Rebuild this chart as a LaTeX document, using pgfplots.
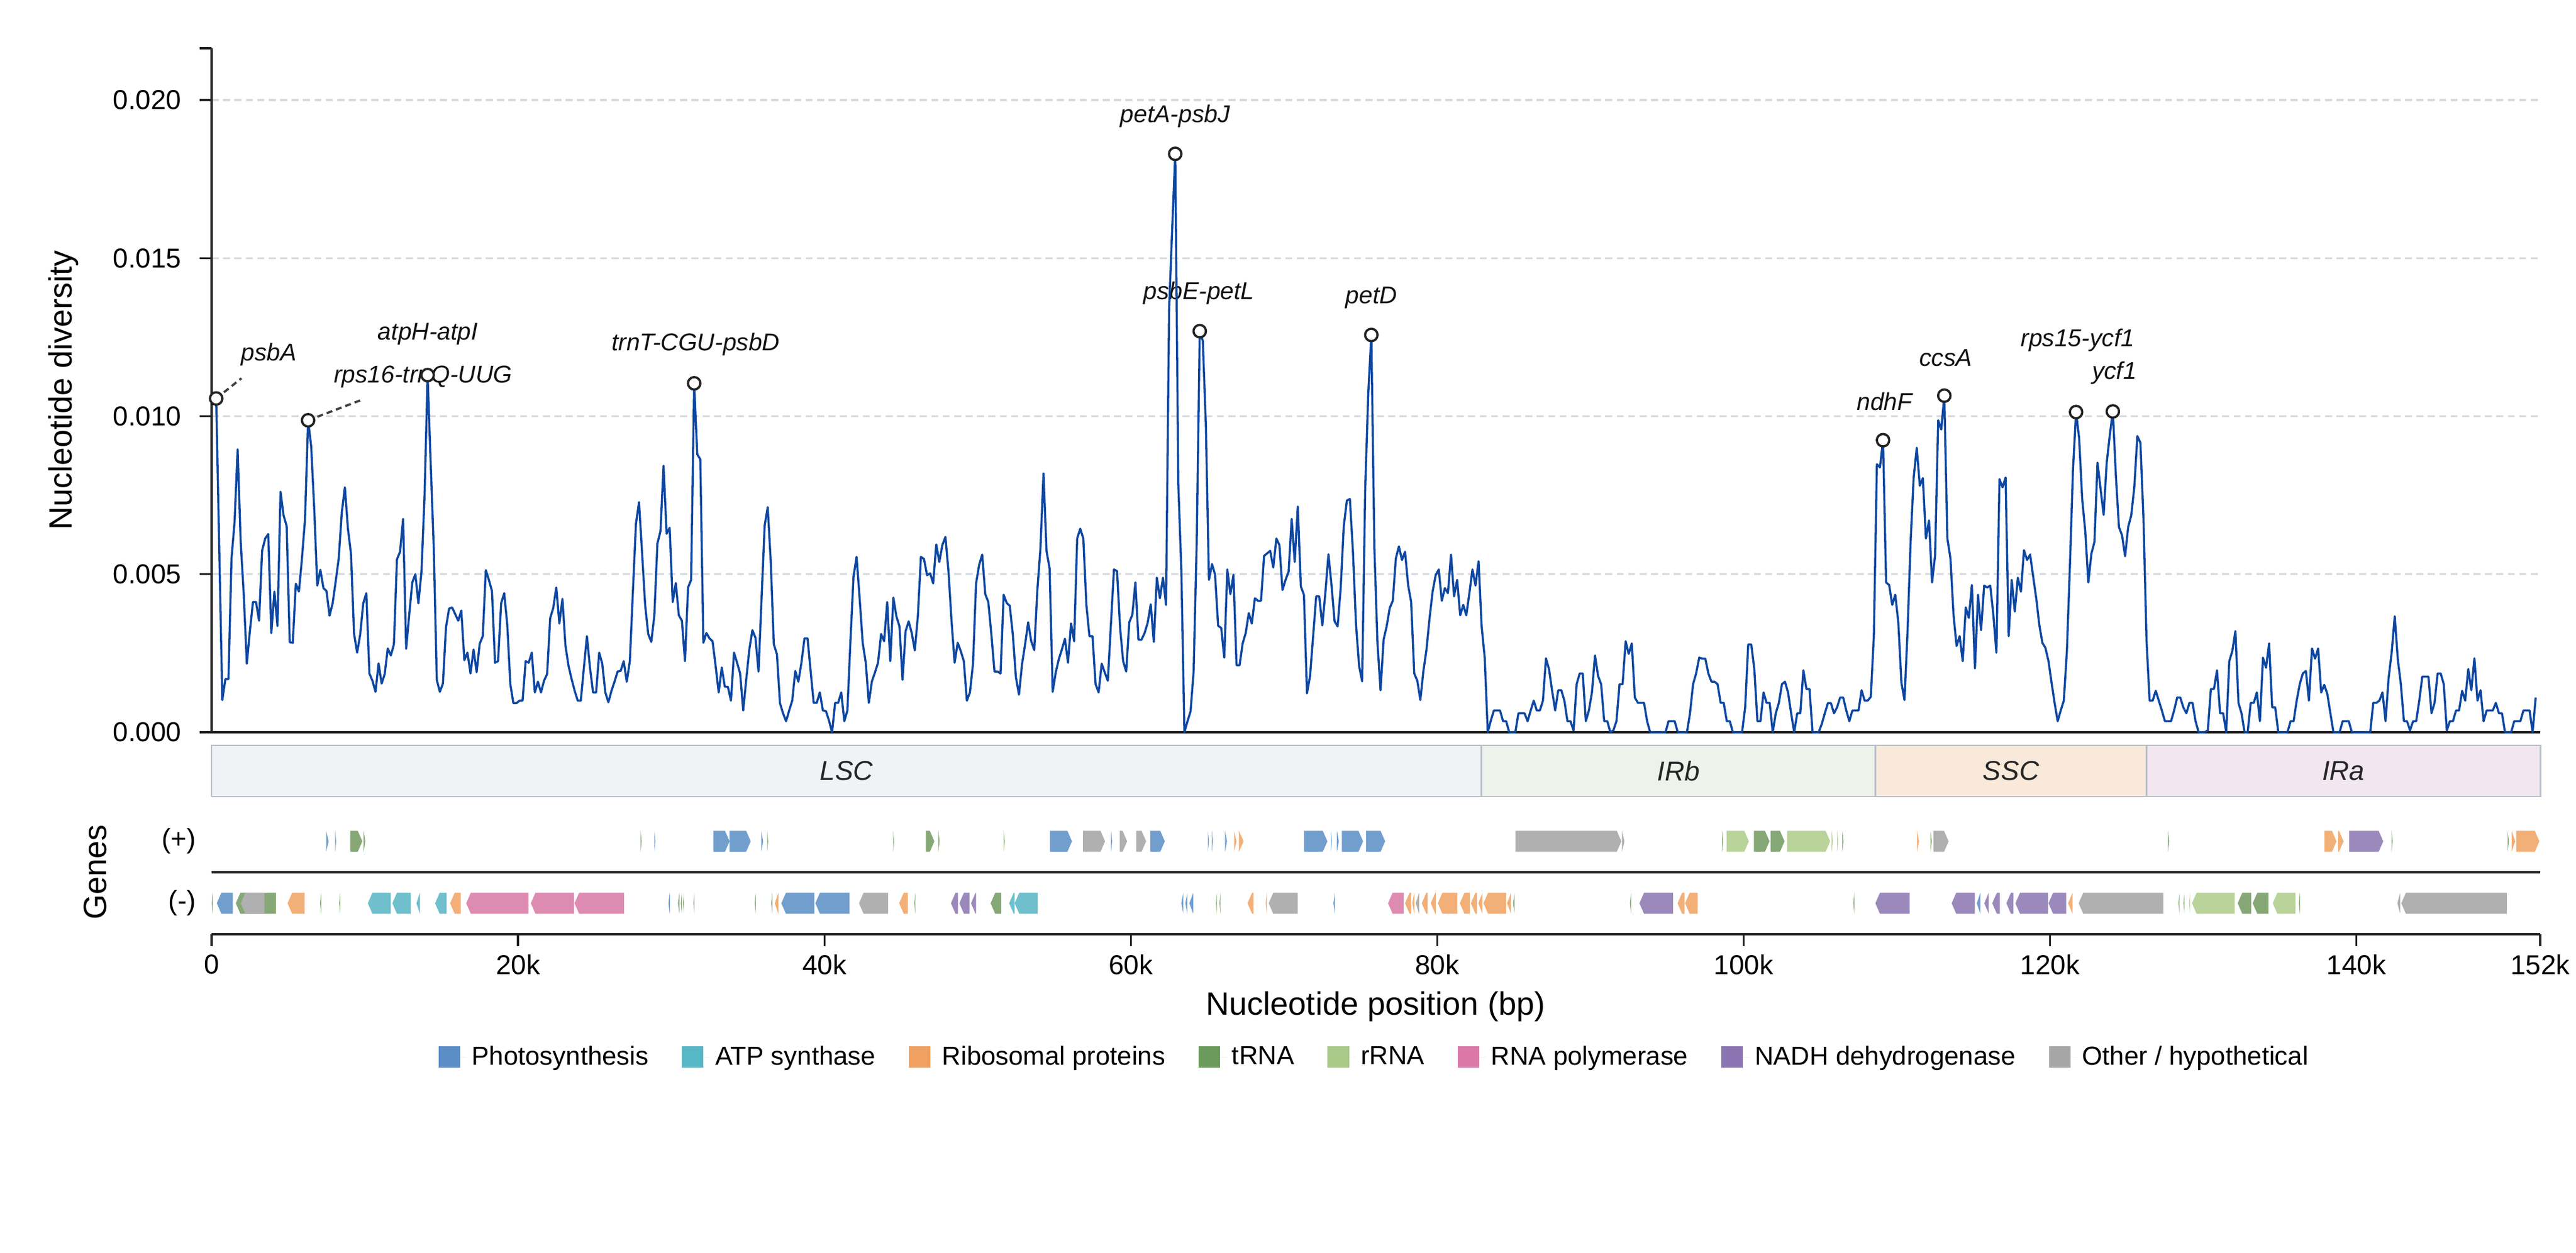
\documentclass[border=0pt]{standalone}
\usepackage{fontspec}
\setmainfont{Liberation Sans}
\usepackage{pgfplots}
\pgfplotsset{compat=1.18}

\definecolor{linec}{HTML}{0D47A1}
\definecolor{axc}{HTML}{222222}
\definecolor{gridc}{HTML}{D6DADF}
\definecolor{leadc}{HTML}{404040}
\definecolor{bandedge}{HTML}{B9BFC7}
\definecolor{bLSC}{HTML}{EFF3F6}
\definecolor{bIRb}{HTML}{EDF2EA}
\definecolor{bSSC}{HTML}{F9E9DA}
\definecolor{bIRa}{HTML}{F2E6F1}
% gene fills
\definecolor{gPS}{HTML}{729ECE}
\definecolor{gATP}{HTML}{6FBFCC}
\definecolor{gRP}{HTML}{F2AF78}
\definecolor{gT}{HTML}{86A876}
\definecolor{gR}{HTML}{B9D39A}
\definecolor{gPOL}{HTML}{DE8BB2}
\definecolor{gNDH}{HTML}{9B89BC}
\definecolor{gOT}{HTML}{B0B0B0}
% legend fills
\definecolor{lPS}{HTML}{5B8DC7}
\definecolor{lATP}{HTML}{56B8C6}
\definecolor{lRP}{HTML}{F0A060}
\definecolor{lT}{HTML}{6C9A5C}
\definecolor{lR}{HTML}{A9CA88}
\definecolor{lPOL}{HTML}{DC78A8}
\definecolor{lNDH}{HTML}{8B74B2}
\definecolor{lOT}{HTML}{A6A6A6}

\tikzset{
  ann/.style={font=\fontsize{9.8}{11}\selectfont\itshape, text=black!93, inner sep=0pt, anchor=center},
  reg/.style={font=\fontsize{11}{13}\selectfont\itshape, text=black!85, inner sep=0pt},
}

\newcommand{\genep}[3]{\pgfmathsetmacro\gtip{max(#1,#2-0.3)}%
\addplot[forget plot,draw=none,fill=#3] coordinates {(#1,0.33)(\gtip,0.33)(#2,0.5)(\gtip,0.67)(#1,0.67)};}
\newcommand{\genem}[3]{\pgfmathsetmacro\gtip{min(#2,#1+0.3)}%
\addplot[forget plot,draw=none,fill=#3] coordinates {(#2,-0.33)(\gtip,-0.33)(#1,-0.5)(\gtip,-0.67)(#2,-0.67)};}

\begin{document}
\begin{tikzpicture}
\useasboundingbox (0,0) rectangle (1037.28pt,504.48pt);

% ---------------- main diversity axis ----------------
\begin{axis}[
  at={(85.2pt,209.52pt)}, anchor=south west, scale only axis,
  width=937.68pt, height=275.52pt,
  xmin=0, xmax=152, ymin=0, ymax=21.64,
  axis x line*=bottom, axis y line*=left,
  axis line style={-, line width=0.8pt, draw=axc},
  xtick=\empty,
  ytick={0,5,10,15,20},
  yticklabels={0.000,0.005,0.010,0.015,0.020},
  extra y ticks={21.64}, extra y tick labels={}, extra y tick style={grid=none},
  ymajorgrids,
  major grid style={draw=gridc, line width=0.8pt, dash pattern=on 2.8pt off 1.8pt},
  tick align=outside, major tick length=4.8pt,
  tick style={line width=0.8pt, draw=axc},
  tick label style={font=\fontsize{11}{13}\selectfont},
  yticklabel style={xshift=-3.8pt},
  clip=false,
]
\node[ann] at (axis cs:3.74,11.95) {psbA};
\node[ann] at (axis cs:13.81,11.25) {rps16-trnQ-UUG};
\node[ann] at (axis cs:14.12,12.6) {atpH-atpI};
\node[ann] at (axis cs:31.6,12.27) {trnT-CGU-psbD};
\node[ann] at (axis cs:62.9,19.5) {petA-psbJ};
\node[ann] at (axis cs:64.45,13.9) {psbE-petL};
\node[ann] at (axis cs:75.7,13.74) {petD};
\node[ann] at (axis cs:109.2,10.46) {ndhF};
\node[ann] at (axis cs:113.2,11.85) {ccsA};
\node[ann] at (axis cs:121.8,12.41) {rps15-ycf1};
\node[ann] at (axis cs:124.2,11.37) {ycf1};

\addplot[forget plot, draw=leadc, line width=0.9pt, dash pattern=on 2.4pt off 1.6pt] coordinates {(0.3,10.56)(1.95,11.2)};
\addplot[forget plot, draw=leadc, line width=0.9pt, dash pattern=on 2.4pt off 1.6pt] coordinates {(6.3,9.87)(9.92,10.54)};

\addplot[forget plot, draw=linec, line width=0.85pt, line join=round] coordinates {
(0.3,10.56)(0.5,5.8)(0.7,1.02)(0.9,1.68)(1.1,1.68)(1.3,5.5)(1.5,6.65)(1.7,8.95)(1.9,6.02)(2.1,4.35)
(2.3,2.17)(2.5,3.2)(2.7,4.12)(2.9,4.12)(3.1,3.53)(3.3,5.75)(3.5,6.13)(3.7,6.27)(3.9,3.14)(4.1,4.45)
(4.3,3.36)(4.5,7.61)(4.7,6.86)(4.9,6.52)(5.1,2.85)(5.3,2.83)(5.5,4.7)(5.7,4.45)(5.9,5.5)(6.1,6.75)
(6.3,9.87)(6.5,9.05)(6.7,7.07)(6.9,4.64)(7.1,5.14)(7.3,4.56)(7.5,4.47)(7.7,3.69)(7.9,4.08)(8.1,4.77)
(8.3,5.5)(8.5,6.96)(8.7,7.75)(8.9,6.44)(9.1,5.65)(9.3,3.11)(9.5,2.52)(9.7,3.09)(9.9,4.08)(10.1,4.4)
(10.3,1.86)(10.5,1.63)(10.7,1.28)(10.9,2.18)(11.1,1.54)(11.3,1.84)(11.5,2.65)(11.7,2.43)(11.9,2.78)(12.1,5.47)
(12.3,5.71)(12.5,6.75)(12.7,2.64)(12.9,3.72)(13.1,4.74)(13.3,5.0)(13.5,4.08)(13.7,5.08)(13.9,7.48)(14.1,11.3)
(14.3,8.53)(14.5,5.86)(14.7,1.65)(14.9,1.28)(15.1,1.54)(15.3,3.32)(15.5,3.91)(15.7,3.95)(15.9,3.74)(16.1,3.53)
(16.3,3.85)(16.5,2.28)(16.7,2.52)(16.9,1.86)(17.1,2.62)(17.3,1.9)(17.5,2.8)(17.7,3.04)(17.9,5.13)(18.1,4.82)
(18.3,4.47)(18.5,2.2)(18.7,2.25)(18.9,4.08)(19.1,4.4)(19.3,3.4)(19.5,1.52)(19.7,0.92)(19.9,0.92)(20.1,1.0)
(20.3,1.0)(20.5,2.25)(20.7,2.2)(20.9,2.52)(21.1,1.26)(21.3,1.6)(21.5,1.26)(21.7,1.63)(21.9,1.84)(22.1,3.61)
(22.3,3.93)(22.5,4.58)(22.7,3.44)(22.9,4.22)(23.1,2.73)(23.3,2.1)(23.5,1.68)(23.7,1.31)(23.9,1.0)(24.1,1.0)
(24.3,2.04)(24.5,3.04)(24.7,2.04)(24.9,1.26)(25.1,1.26)(25.3,2.52)(25.5,2.17)(25.7,1.26)(25.9,0.95)(26.1,1.31)
(26.3,1.6)(26.5,1.92)(26.7,1.94)(26.9,2.25)(27.1,1.6)(27.3,2.25)(27.5,4.45)(27.7,6.6)(27.9,7.28)(28.1,5.66)
(28.3,4.03)(28.5,3.11)(28.7,2.86)(28.9,3.7)(29.1,5.97)(29.3,6.36)(29.5,8.43)(29.7,6.28)(29.9,6.47)(30.1,4.12)
(30.3,4.72)(30.5,3.7)(30.7,3.53)(30.9,2.25)(31.1,4.58)(31.3,4.82)(31.5,11.04)(31.7,8.79)(31.9,8.64)(32.1,2.83)
(32.3,3.14)(32.5,2.97)(32.7,2.88)(32.9,2.1)(33.1,1.26)(33.3,2.05)(33.5,1.44)(33.7,1.44)(33.9,1.0)(34.1,2.52)
(34.3,2.2)(34.5,1.86)(34.7,0.69)(34.9,1.68)(35.1,2.62)(35.3,3.23)(35.5,2.99)(35.7,1.92)(35.9,4.24)(36.1,6.54)
(36.3,7.12)(36.5,5.39)(36.7,2.78)(36.9,2.47)(37.1,0.92)(37.3,0.6)(37.5,0.35)(37.7,0.69)(37.9,1.0)(38.1,1.94)
(38.3,1.6)(38.5,2.2)(38.7,2.97)(38.9,2.97)(39.1,1.94)(39.3,0.93)(39.5,0.93)(39.7,1.26)(39.9,0.69)(40.1,0.67)
(40.3,0.37)(40.5,0.0)(40.7,0.93)(40.9,0.93)(41.1,1.26)(41.3,0.35)(41.5,0.69)(41.7,2.88)(41.9,4.92)(42.1,5.55)
(42.3,4.24)(42.5,2.83)(42.7,2.2)(42.9,0.93)(43.1,1.61)(43.3,1.89)(43.5,2.2)(43.7,3.11)(43.9,2.88)(44.1,4.12)
(44.3,2.25)(44.5,4.26)(44.7,3.67)(44.9,3.35)(45.1,1.66)(45.3,3.2)(45.5,3.51)(45.7,3.14)(45.9,2.59)(46.1,3.67)
(46.3,5.55)(46.5,5.48)(46.7,4.97)(46.9,5.03)(47.1,4.71)(47.3,5.94)(47.5,5.39)(47.7,5.92)(47.9,6.18)(48.1,5.08)
(48.3,3.51)(48.5,2.2)(48.7,2.83)(48.9,2.57)(49.1,2.25)(49.3,1.0)(49.5,1.26)(49.7,2.17)(49.9,4.71)(50.1,5.29)
(50.3,5.62)(50.5,4.37)(50.7,4.12)(50.9,3.09)(51.1,1.92)(51.3,1.92)(51.5,1.86)(51.7,4.35)(51.9,4.09)(52.1,4.0)
(52.3,3.09)(52.5,1.74)(52.7,1.19)(52.9,2.15)(53.1,2.78)(53.3,3.48)(53.5,2.88)(53.7,2.6)(53.9,4.5)(54.1,5.81)
(54.3,8.19)(54.5,5.73)(54.7,5.18)(54.9,1.28)(55.1,1.89)(55.3,2.31)(55.5,2.62)(55.7,2.96)(55.9,2.2)(56.1,3.44)
(56.3,2.88)(56.5,6.13)(56.7,6.44)(56.9,6.13)(57.1,4.03)(57.3,3.04)(57.5,3.04)(57.7,1.52)(57.9,1.26)(58.1,2.17)
(58.3,1.89)(58.5,1.63)(58.7,3.4)(58.9,5.15)(59.1,5.1)(59.3,3.3)(59.5,2.25)(59.7,1.92)(59.9,3.48)(60.1,3.72)
(60.3,4.74)(60.5,2.93)(60.7,2.93)(60.9,3.14)(61.1,3.46)(61.3,4.05)(61.5,2.86)(61.7,4.89)(61.9,4.24)(62.1,4.89)
(62.3,4.03)(62.5,13.4)(62.7,15.9)(62.9,18.3)(63.1,7.85)(63.3,5.11)(63.5,0.0)(63.7,0.35)(63.9,0.66)(64.1,1.91)
(64.3,5.97)(64.5,12.69)(64.7,12.38)(64.9,9.72)(65.1,4.82)(65.3,5.32)(65.5,4.99)(65.7,3.37)(65.9,3.3)(66.1,2.36)
(66.3,5.15)(66.5,4.37)(66.7,4.98)(66.9,2.12)(67.1,2.12)(67.3,2.81)(67.5,3.14)(67.7,3.77)(67.9,3.44)(68.1,4.24)
(68.3,4.16)(68.5,4.16)(68.7,5.58)(68.9,5.66)(69.1,5.74)(69.3,5.21)(69.5,6.13)(69.7,5.92)(69.9,4.5)(70.1,4.82)
(70.3,5.08)(70.5,6.75)(70.7,5.39)(70.9,7.14)(71.1,4.61)(71.3,4.35)(71.5,1.23)(71.7,1.78)(71.9,3.04)(72.1,4.3)
(72.3,4.3)(72.5,3.38)(72.7,4.42)(72.9,5.63)(73.1,4.66)(73.3,3.51)(73.5,3.35)(73.7,4.56)(73.9,6.51)(74.1,7.33)
(74.3,7.38)(74.5,5.71)(74.7,3.41)(74.9,2.1)(75.1,1.61)(75.3,7.7)(75.5,10.73)(75.7,12.57)(75.9,5.81)(76.1,2.83)
(76.3,1.33)(76.5,2.93)(76.7,3.35)(76.9,3.93)(77.1,4.16)(77.3,5.5)(77.5,5.88)(77.7,5.45)(77.9,5.71)(78.1,4.66)
(78.3,4.12)(78.5,1.86)(78.7,1.63)(78.9,1.02)(79.1,1.94)(79.3,2.62)(79.5,3.61)(79.7,4.45)(79.9,4.97)(80.1,5.15)
(80.3,4.16)(80.5,4.56)(80.7,4.4)(80.9,5.62)(81.1,4.3)(81.3,4.82)(81.5,3.7)(81.7,4.03)(81.9,3.7)(82.1,4.4)
(82.3,5.15)(82.5,4.64)(82.7,5.41)(82.9,3.35)(83.1,2.36)(83.3,0.0)(83.5,0.37)(83.7,0.69)(83.9,0.69)(84.1,0.69)
(84.3,0.35)(84.5,0.35)(84.7,0.0)(84.9,0.0)(85.1,0.0)(85.3,0.6)(85.5,0.6)(85.7,0.6)(85.9,0.35)(86.1,0.69)
(86.3,1.0)(86.5,0.69)(86.7,0.69)(86.9,1.0)(87.1,2.34)(87.3,1.99)(87.5,1.31)(87.7,0.69)(87.9,1.33)(88.1,1.33)
(88.3,1.0)(88.5,0.35)(88.7,0.35)(88.9,0.06)(89.1,1.52)(89.3,1.86)(89.5,1.86)(89.7,0.35)(89.9,0.69)(90.1,1.26)
(90.3,2.43)(90.5,1.78)(90.7,1.52)(90.9,0.35)(91.1,0.35)(91.3,0.0)(91.5,0.06)(91.7,0.35)(91.9,1.52)(92.1,1.52)
(92.3,2.88)(92.5,2.48)(92.7,2.81)(92.9,1.1)(93.1,0.93)(93.3,0.93)(93.5,0.93)(93.7,0.35)(93.9,0.0)(94.1,0.0)
(94.3,0.0)(94.5,0.0)(94.7,0.0)(94.9,0.0)(95.1,0.35)(95.3,0.35)(95.5,0.35)(95.7,0.0)(95.9,0.0)(96.1,0.0)
(96.3,0.0)(96.5,0.6)(96.7,1.52)(96.9,1.86)(97.1,2.36)(97.3,2.33)(97.5,2.33)(97.7,1.86)(97.9,1.6)(98.1,1.6)
(98.3,1.52)(98.5,0.93)(98.7,0.93)(98.9,0.35)(99.1,0.35)(99.3,0.0)(99.5,0.0)(99.7,0.0)(99.9,0.0)(100.1,0.79)
(100.3,2.78)(100.5,2.78)(100.7,1.99)(100.9,0.35)(101.1,0.35)(101.3,1.26)(101.5,0.93)(101.7,0.93)(101.9,0.0)(102.1,0.6)
(102.3,0.93)(102.5,1.52)(102.7,1.6)(102.9,1.26)(103.1,0.6)(103.3,0.0)(103.5,0.6)(103.7,0.6)(103.9,1.96)(104.1,1.37)
(104.3,1.37)(104.5,0.0)(104.7,0.0)(104.9,0.0)(105.1,0.26)(105.3,0.6)(105.5,0.92)(105.7,0.92)(105.9,0.6)(106.1,0.79)
(106.3,1.1)(106.5,1.1)(106.7,0.69)(106.9,0.35)(107.1,0.69)(107.3,0.69)(107.5,0.69)(107.7,1.33)(107.9,1.0)(108.1,1.0)
(108.3,1.12)(108.5,3.04)(108.7,8.48)(108.9,8.38)(109.1,9.24)(109.3,4.74)(109.5,4.66)(109.7,4.03)(109.9,4.35)(110.1,3.46)
(110.3,1.57)(110.5,1.02)(110.7,3.2)(110.9,6.02)(111.1,8.06)(111.3,9.0)(111.5,7.8)(111.7,8.04)(111.9,6.13)(112.1,6.7)
(112.3,4.74)(112.5,5.6)(112.7,9.87)(112.9,9.58)(113.1,10.65)(113.3,6.13)(113.5,5.5)(113.7,3.72)(113.9,2.73)(114.1,3.04)
(114.3,2.25)(114.5,3.95)(114.7,3.62)(114.9,4.66)(115.1,2.02)(115.3,4.35)(115.5,3.23)(115.7,4.64)(115.9,4.58)(116.1,4.64)
(116.3,3.72)(116.5,2.52)(116.7,8.01)(116.9,7.75)(117.1,8.06)(117.3,3.04)(117.5,4.82)(117.7,3.82)(117.9,4.89)(118.1,4.45)
(118.3,5.76)(118.5,5.45)(118.7,5.62)(118.9,4.92)(119.1,4.24)(119.3,3.4)(119.5,2.83)(119.7,2.67)(119.9,2.25)(120.1,1.57)
(120.3,0.92)(120.5,0.35)(120.7,0.69)(120.9,1.0)(121.1,2.57)(121.3,5.29)(121.5,8.32)(121.7,10.13)(121.9,9.3)(122.1,7.38)
(122.3,6.36)(122.5,4.74)(122.7,5.65)(122.9,6.02)(123.1,8.53)(123.3,7.69)(123.5,6.88)(123.7,8.53)(123.9,9.4)(124.1,10.15)
(124.3,8.11)(124.5,6.49)(124.7,6.23)(124.9,5.57)(125.1,6.49)(125.3,6.86)(125.5,7.75)(125.7,9.37)(125.9,9.16)(126.1,6.75)
(126.3,2.88)(126.5,1.0)(126.7,1.0)(126.9,1.31)(127.1,1.0)(127.3,0.69)(127.5,0.35)(127.7,0.35)(127.9,0.35)(128.1,0.69)
(128.3,1.1)(128.5,1.1)(128.7,0.79)(128.9,0.6)(129.1,0.93)(129.3,0.93)(129.5,0.35)(129.7,0.0)(129.9,0.0)(130.1,0.0)
(130.3,0.06)(130.5,1.37)(130.7,1.37)(130.9,1.96)(131.1,0.6)(131.3,0.6)(131.5,0.0)(131.7,2.25)(131.9,2.57)(132.1,3.2)
(132.3,0.93)(132.5,0.6)(132.7,0.0)(132.9,0.0)(133.1,0.93)(133.3,0.93)(133.5,1.26)(133.7,0.35)(133.9,2.36)(134.1,2.04)
(134.3,2.81)(134.5,0.79)(134.7,0.79)(134.9,0.0)(135.1,0.0)(135.3,0.0)(135.5,0.0)(135.7,0.35)(135.9,0.35)(136.1,1.0)
(136.3,1.52)(136.5,1.86)(136.7,1.94)(136.9,1.0)(137.1,2.65)(137.3,2.33)(137.5,2.65)(137.7,1.26)(137.9,1.5)(138.1,1.21)
(138.3,0.6)(138.5,0.0)(138.7,0.0)(138.9,0.0)(139.1,0.35)(139.3,0.35)(139.5,0.35)(139.7,0.0)(139.9,0.0)(140.1,0.0)
(140.3,0.0)(140.5,0.0)(140.7,0.0)(140.9,0.0)(141.1,0.93)(141.3,0.93)(141.5,1.0)(141.7,1.26)(141.9,0.35)(142.1,1.71)
(142.3,2.52)(142.5,3.67)(142.7,2.31)(142.9,1.52)(143.1,0.35)(143.3,0.35)(143.5,0.06)(143.7,0.35)(143.9,0.35)(144.1,1.0)
(144.3,1.76)(144.5,1.76)(144.7,1.76)(144.9,0.6)(145.1,0.93)(145.3,1.86)(145.5,1.86)(145.7,1.52)(145.9,0.06)(146.1,0.35)
(146.3,0.35)(146.5,0.69)(146.7,0.69)(146.9,1.31)(147.1,1.0)(147.3,2.0)(147.5,1.33)(147.7,2.34)(147.9,1.0)(148.1,1.33)
(148.3,0.35)(148.5,0.69)(148.7,0.69)(148.9,0.69)(149.1,0.93)(149.3,0.6)(149.5,0.6)(149.7,0.0)(149.9,0.0)(150.1,0.0)
(150.3,0.35)(150.5,0.35)(150.7,0.35)(150.9,0.69)(151.1,0.69)(151.3,0.69)(151.5,0.0)(151.7,1.1)
};

\addplot[forget plot, only marks, mark=*, mark size=2.5pt,
  mark options={fill=white, draw=axc, line width=0.9pt}] coordinates {
(0.3,10.56)(6.3,9.87)(14.1,11.3)(31.5,11.04)(62.9,18.3)(64.5,12.69)(75.7,12.57)
(109.1,9.24)(113.1,10.65)(121.7,10.13)(124.1,10.15)};
\end{axis}

% ---------------- region band ----------------
\begin{axis}[
  at={(85.2pt,183.6pt)}, anchor=south west, scale only axis,
  width=937.68pt, height=20.64pt,
  xmin=0, xmax=152, ymin=0, ymax=1, hide axis, clip=false,
]
\addplot[forget plot, fill=bLSC, draw=bandedge, line width=0.7pt] coordinates {(0,0)(82.9,0)(82.9,1)(0,1)(0,0)};
\addplot[forget plot, fill=bIRb, draw=bandedge, line width=0.7pt] coordinates {(82.9,0)(108.6,0)(108.6,1)(82.9,1)(82.9,0)};
\addplot[forget plot, fill=bSSC, draw=bandedge, line width=0.7pt] coordinates {(108.6,0)(126.3,0)(126.3,1)(108.6,1)(108.6,0)};
\addplot[forget plot, fill=bIRa, draw=bandedge, line width=0.7pt] coordinates {(126.3,0)(152,0)(152,1)(126.3,1)(126.3,0)};
\node[reg] at (axis cs:41.45,0.5) {LSC};
\node[reg] at (axis cs:95.75,0.5) {IRb};
\node[reg] at (axis cs:117.45,0.5) {SSC};
\node[reg] at (axis cs:139.15,0.5) {IRa};
\end{axis}

% ---------------- gene track ----------------
\begin{axis}[
  at={(85.2pt,128.16pt)}, anchor=south west, scale only axis,
  width=937.68pt, height=49.92pt,
  xmin=0, xmax=152, ymin=-1, ymax=1,
  axis x line*=bottom, axis y line*=left,
  x axis line style={-, line width=0.8pt, draw=axc},
  y axis line style={draw=none},
  xtick={0,20,40,60,80,100,120,140,152},
  xticklabels={0,20k,40k,60k,80k,100k,120k,140k,152k},
  ytick={-0.5,0.5}, yticklabels={(-),(+)},
  ytick style={draw=none},
  xtick style={line width=0.8pt, draw=axc},
  tick align=outside, major tick length=4.8pt,
  tick label style={font=\fontsize{11}{13}\selectfont},
  yticklabel style={xshift=2pt},
  legend columns=8,
  legend cell align=left,
  legend style={at={(axis description cs:0.5,-0.992)}, anchor=center, draw=none, fill=none,
    font=\fontsize{10.5}{12}\selectfont,
    /tikz/every even column/.append style={column sep=11.4pt}},
  legend image code/.code={\fill[#1] (0pt,-4.3pt) rectangle (8.7pt,4.3pt); \path (0pt,0pt) -- (11.4pt,0pt);},
]
\addplot[forget plot, draw=axc, line width=0.8pt] coordinates {(0,0)(152,0)};
% plus strand
\genep{7.48}{7.64}{gPS}
\genep{8.07}{8.13}{gPS}
\genep{9.05}{9.84}{gT}
\genep{9.93}{10.03}{gT}
\genep{28.0}{28.07}{gT}
\genep{28.9}{28.97}{gPS}
\genep{32.76}{33.81}{gPS}
\genep{33.81}{35.19}{gPS}
\genep{35.88}{36.0}{gPS}
\genep{36.27}{36.33}{gT}
\genep{44.49}{44.55}{gT}
\genep{46.62}{47.18}{gT}
\genep{47.44}{47.52}{gT}
\genep{51.7}{51.77}{gT}
\genep{54.72}{56.16}{gPS}
\genep{56.88}{58.32}{gOT}
\genep{58.71}{58.78}{gPS}
\genep{59.27}{59.76}{gOT}
\genep{60.35}{61.0}{gOT}
\genep{61.27}{62.22}{gPS}
\genep{65.03}{65.1}{gPS}
\genep{65.3}{65.36}{gPS}
\genep{66.15}{66.28}{gPS}
\genep{66.74}{66.9}{gRP}
\genep{67.06}{67.36}{gRP}
\genep{71.32}{72.83}{gPS}
\genep{73.06}{73.12}{gPS}
\genep{73.45}{73.58}{gPS}
\genep{73.78}{75.16}{gPS}
\genep{75.35}{76.6}{gPS}
\genep{85.11}{92.02}{gOT}
\genep{92.06}{92.22}{gOT}
\genep{98.6}{98.67}{gT}
\genep{98.9}{100.34}{gR}
\genep{100.67}{101.69}{gT}
\genep{101.76}{102.67}{gT}
\genep{102.84}{105.65}{gR}
\genep{105.75}{105.82}{gR}
\genep{106.11}{106.18}{gR}
\genep{106.44}{106.52}{gT}
\genep{111.32}{111.45}{gRP}
\genep{112.2}{112.28}{gT}
\genep{112.4}{113.38}{gOT}
\genep{127.7}{127.78}{gT}
\genep{137.92}{138.7}{gRP}
\genep{138.8}{139.16}{gRP}
\genep{139.52}{141.75}{gNDH}
\genep{142.3}{142.37}{gT}
\genep{149.87}{149.95}{gT}
\genep{150.13}{150.36}{gRP}
\genep{150.43}{151.94}{gRP}
% minus strand
\genem{0.01}{0.07}{gT}
\genem{0.34}{1.39}{gPS}
\genem{1.58}{4.2}{gT}
\genem{1.91}{3.45}{gOT}
\genem{4.96}{6.07}{gRP}
\genem{7.08}{7.15}{gT}
\genem{8.33}{8.4}{gT}
\genem{10.2}{11.7}{gATP}
\genem{11.8}{13.0}{gATP}
\genem{13.37}{13.6}{gATP}
\genem{14.59}{15.34}{gATP}
\genem{15.57}{16.26}{gRP}
\genem{16.62}{20.68}{gPOL}
\genem{20.84}{23.66}{gPOL}
\genem{23.69}{26.93}{gPOL}
\genem{29.82}{29.91}{gPS}
\genem{30.44}{30.54}{gT}
\genem{30.63}{30.7}{gT}
\genem{30.77}{30.83}{gT}
\genem{31.45}{31.52}{gT}
\genem{35.45}{35.52}{gT}
\genem{36.53}{36.6}{gT}
\genem{36.76}{37.0}{gRP}
\genem{37.19}{39.35}{gPS}
\genem{39.41}{41.64}{gPS}
\genem{42.26}{44.16}{gOT}
\genem{44.88}{45.44}{gRP}
\genem{45.87}{45.93}{gT}
\genem{48.26}{48.72}{gNDH}
\genem{48.81}{49.47}{gNDH}
\genem{49.57}{49.9}{gNDH}
\genem{50.85}{51.54}{gT}
\genem{52.06}{52.42}{gATP}
\genem{52.42}{53.93}{gATP}
\genem{63.3}{63.43}{gPS}
\genem{63.56}{63.69}{gPS}
\genem{63.82}{64.08}{gPS}
\genem{65.56}{65.62}{gT}
\genem{65.79}{65.85}{gT}
\genem{67.62}{68.01}{gRP}
\genem{68.8}{68.87}{gRP}
\genem{69.0}{70.9}{gOT}
\genem{73.22}{73.32}{gPS}
\genem{76.79}{77.81}{gPOL}
\genem{77.9}{78.3}{gRP}
\genem{78.37}{78.5}{gRP}
\genem{78.6}{78.82}{gOT}
\genem{78.99}{79.38}{gRP}
\genem{79.58}{79.9}{gRP}
\genem{80.04}{81.31}{gRP}
\genem{81.48}{82.13}{gRP}
\genem{82.2}{82.59}{gRP}
\genem{82.69}{82.95}{gRP}
\genem{83.02}{84.49}{gRP}
\genem{84.56}{84.82}{gRP}
\genem{84.95}{85.05}{gT}
\genem{92.58}{92.65}{gT}
\genem{93.2}{95.4}{gNDH}
\genem{95.69}{96.15}{gRP}
\genem{96.18}{97.0}{gRP}
\genem{107.16}{107.23}{gT}
\genem{108.6}{110.83}{gNDH}
\genem{113.58}{115.09}{gNDH}
\genem{115.22}{115.45}{gPS}
\genem{115.71}{116.0}{gNDH}
\genem{116.23}{116.73}{gNDH}
\genem{117.15}{117.61}{gNDH}
\genem{117.74}{119.87}{gNDH}
\genem{119.9}{121.05}{gNDH}
\genem{121.18}{121.47}{gRP}
\genem{121.87}{127.4}{gOT}
\genem{128.38}{128.45}{gT}
\genem{128.71}{128.78}{gT}
\genem{129.07}{129.14}{gR}
\genem{129.27}{132.05}{gR}
\genem{132.25}{133.13}{gT}
\genem{133.23}{134.25}{gT}
\genem{134.54}{136.02}{gR}
\genem{136.25}{136.31}{gT}
\genem{142.67}{142.86}{gOT}
\genem{142.93}{149.81}{gOT}

\addlegendimage{fill=lPS,draw=none}\addlegendentry{Photosynthesis}
\addlegendimage{fill=lATP,draw=none}\addlegendentry{ATP synthase}
\addlegendimage{fill=lRP,draw=none}\addlegendentry{Ribosomal proteins}
\addlegendimage{fill=lT,draw=none}\addlegendentry{tRNA}
\addlegendimage{fill=lR,draw=none}\addlegendentry{rRNA}
\addlegendimage{fill=lPOL,draw=none}\addlegendentry{RNA polymerase}
\addlegendimage{fill=lNDH,draw=none}\addlegendentry{NADH dehydrogenase}
\addlegendimage{fill=lOT,draw=none}\addlegendentry{Other / hypothetical}
\end{axis}

% ---------------- outer labels ----------------
\node[rotate=90, font=\fontsize{13}{15}\selectfont, inner sep=0pt] at (25.44pt,347.28pt) {Nucleotide diversity};
\node[rotate=90, font=\fontsize{13}{15}\selectfont, inner sep=0pt] at (38.4pt,153.12pt) {Genes};
\node[font=\fontsize{13}{15}\selectfont, inner sep=0pt] at (553.9pt,99.12pt) {Nucleotide position (bp)};
\end{tikzpicture}
\end{document}
